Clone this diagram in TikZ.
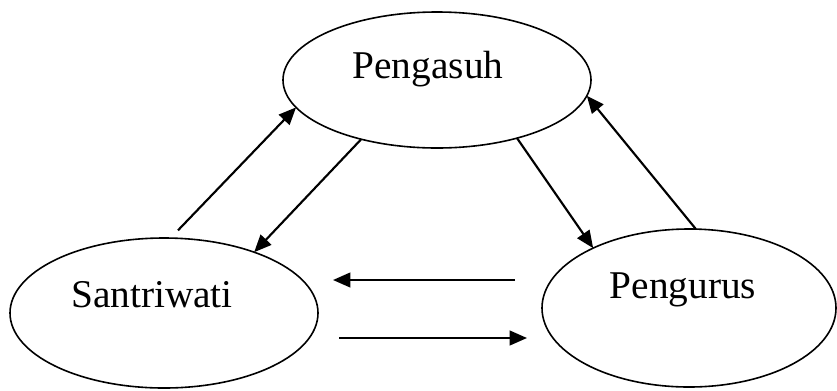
\documentclass[tikz,border=0pt]{standalone}
\usepackage{fontspec}
\setmainfont{Liberation Serif}
\usetikzlibrary{shapes.geometric,arrows.meta}

\begin{document}
\begin{tikzpicture}[x=0.75pt,y=0.75pt,yscale=-1,xscale=1,
  oval/.style={draw, ellipse, line width=1.2pt, inner sep=0pt, outer sep=0pt},
  arr/.style={-{Triangle[length=13pt,width=11pt]}, line width=1.6pt},
  lbl/.style={anchor=base, inner sep=0.75pt, font=\fontsize{29.5}{34}\selectfont}]
\useasboundingbox (0,0) rectangle (837,390);

%Shape: Ellipse [pengasuh]
\node[oval, minimum width=231pt, minimum height=102pt] (pengasuh) at (437,80) {};
%Shape: Ellipse [santriwati]
\node[oval, minimum width=231pt, minimum height=112.5pt] (santriwati) at (164,313) {};
%Shape: Ellipse [pengurus]
\node[oval, minimum width=220.5pt, minimum height=118.5pt] (pengurus) at (689,308) {};

% Text Node
\node[lbl] (tpengasuh) at (428,78) {Pengasuh};
% Text Node
\node[lbl] (tsantriwati) at (152,307) {Santriwati};
% Text Node
\node[lbl] (tpengurus) at (683,298) {Pengurus};

%Straight Lines [santriwati -> pengasuh]
\draw[arr, shorten <=8pt] (santriwati.85) -- (pengasuh.191);
%Straight Lines [pengasuh -> santriwati]
\draw[arr] (pengasuh.218) -- (santriwati.34);
%Straight Lines [pengasuh -> pengurus]
\draw[arr] (pengasuh.324) -- (pengurus.148);
%Straight Lines [pengurus -> pengasuh]
\draw[arr] (pengurus.85) -- (pengasuh.354);

%Straight Lines [between santriwati and pengurus]
\coordinate (dariPengurus) at (515,280);
\coordinate (keSantriwati) at (333,280);
\coordinate (dariSantriwati) at (339,338);
\coordinate (kePengurus) at (527,338);
\draw[arr] (dariPengurus) -- (keSantriwati);
\draw[arr] (dariSantriwati) -- (kePengurus);

\end{tikzpicture}
\end{document}
